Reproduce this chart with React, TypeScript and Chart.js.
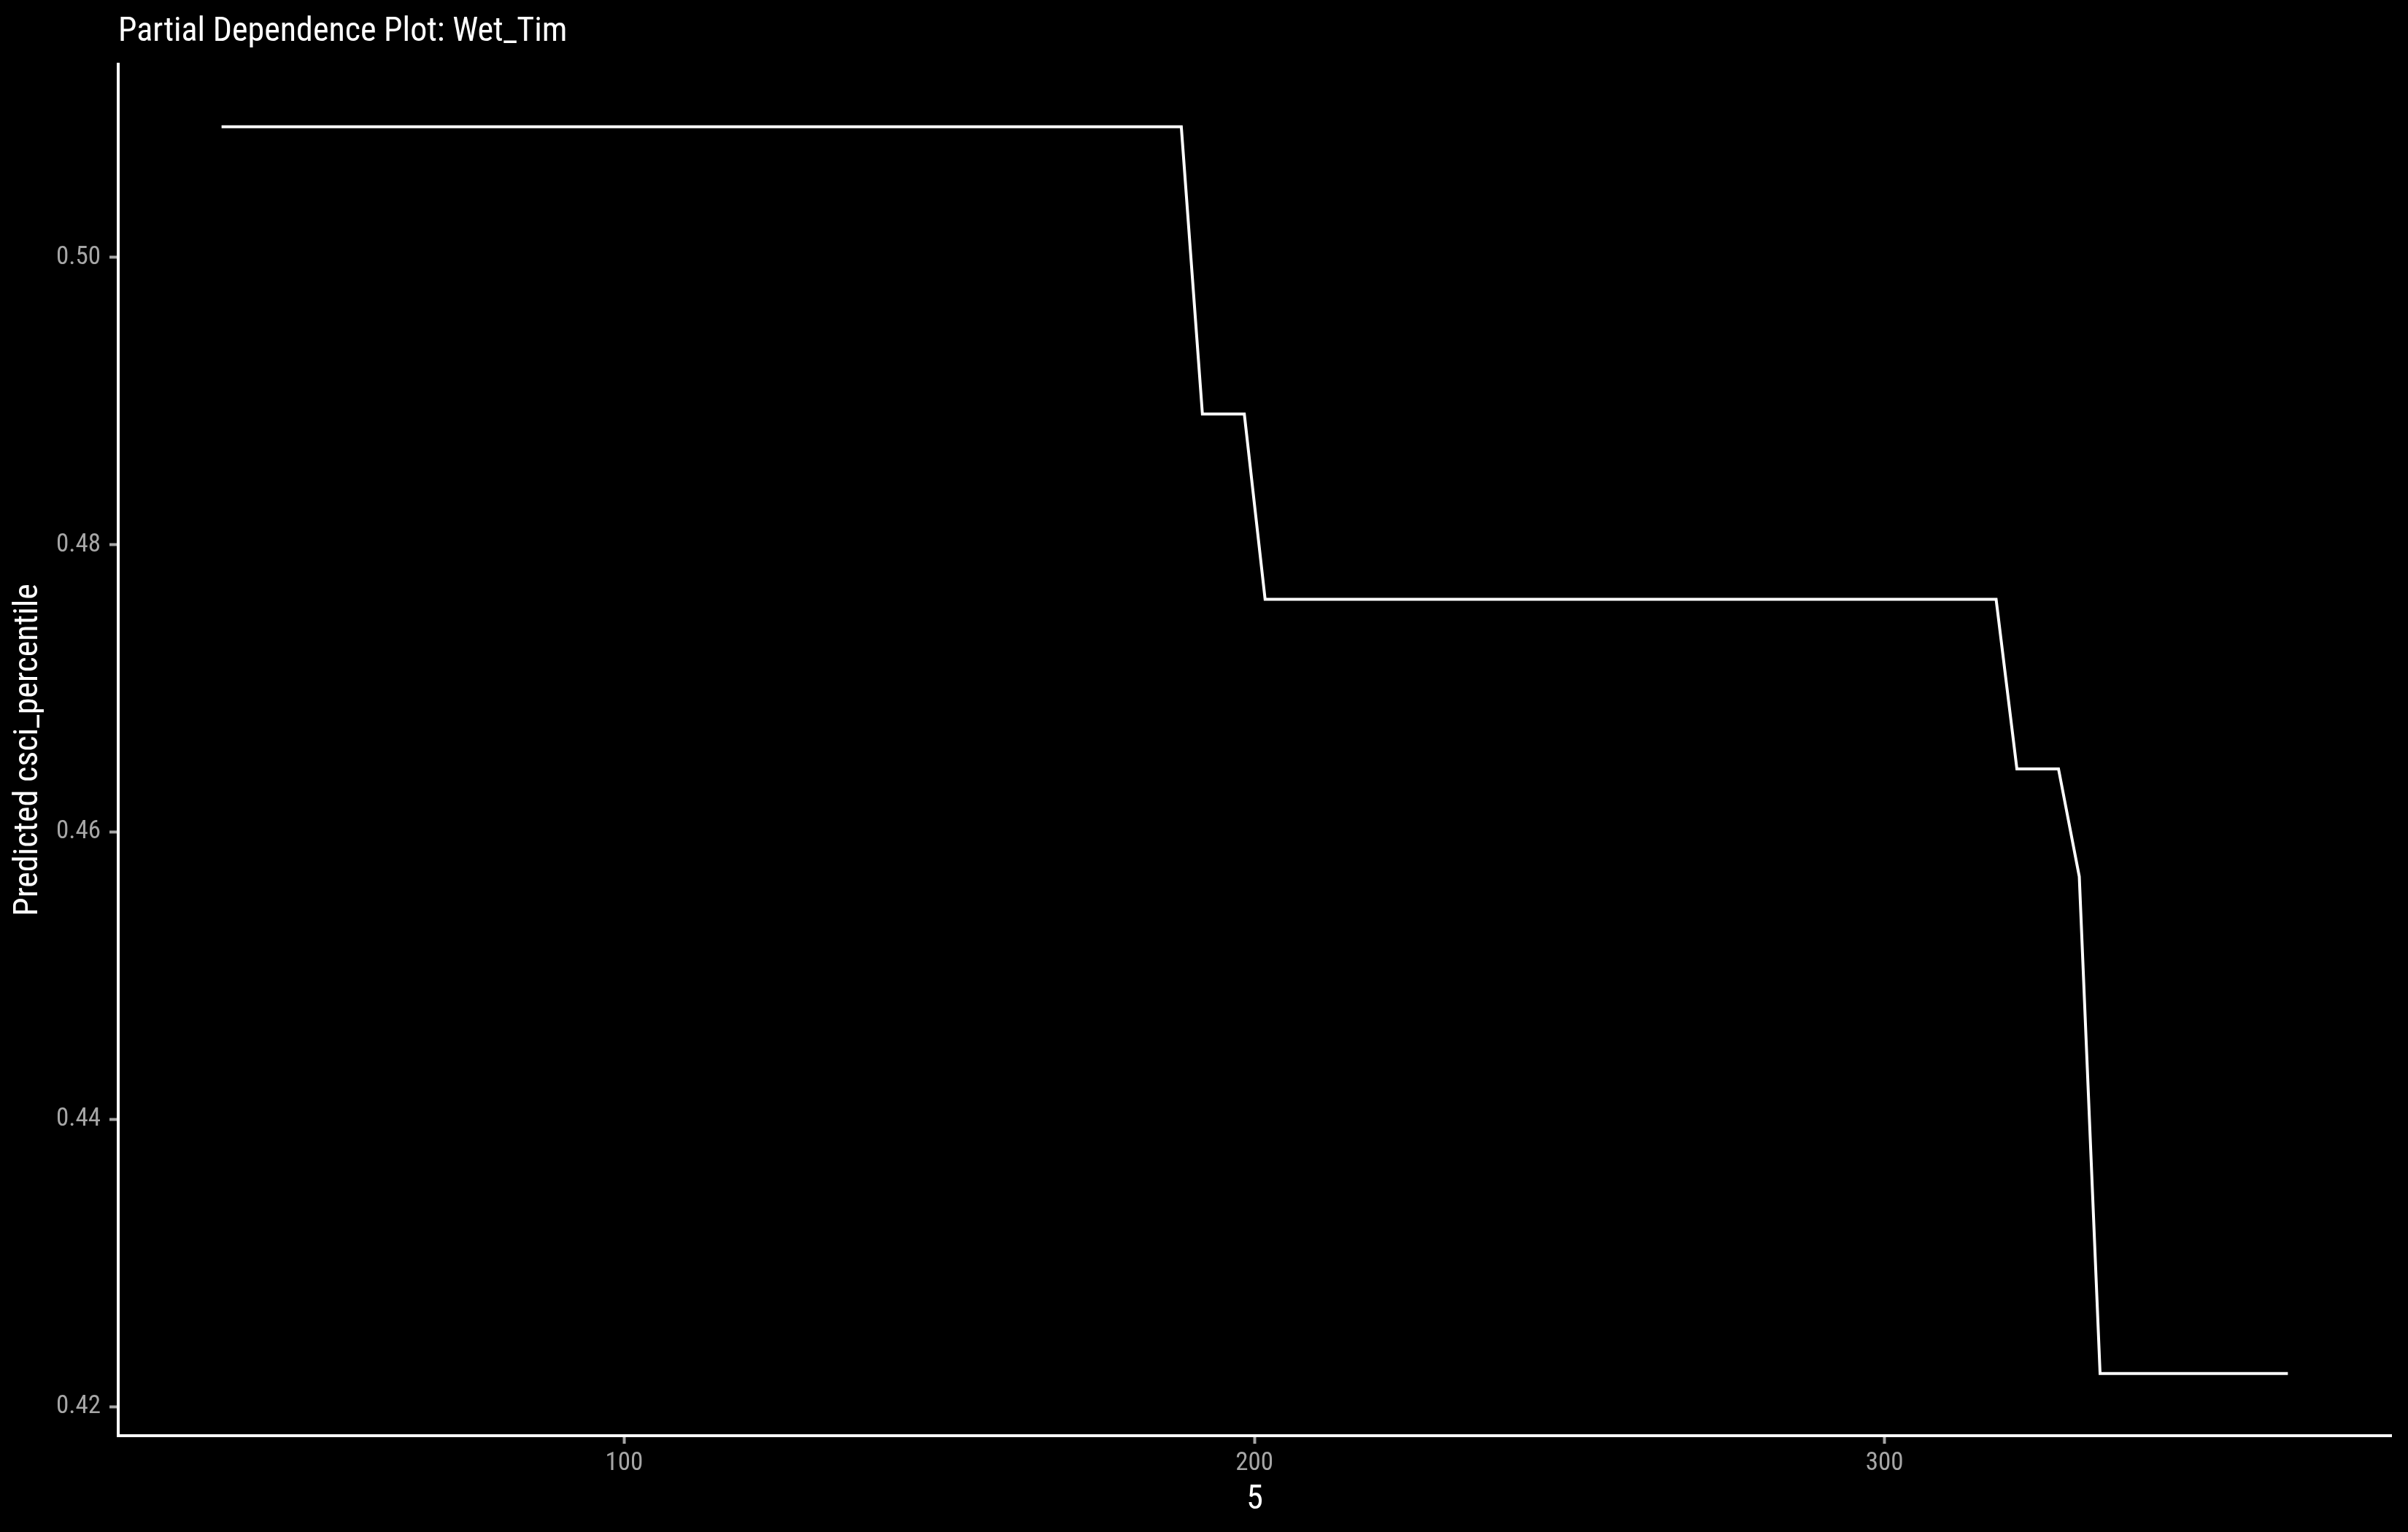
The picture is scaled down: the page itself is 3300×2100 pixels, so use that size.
import React, { useEffect, useRef } from "react";
import { Chart, registerables } from "chart.js";

Chart.register(...registerables);

// ---- data ----
const xValues = [36.1, 188.4, 191.75, 198.4, 201.7, 317.7, 321.0, 327.6, 330.9, 334.2, 364.0];
const yValues = [0.5091, 0.5091, 0.4891, 0.4891, 0.4762, 0.4762, 0.4644, 0.4644, 0.4569, 0.4223, 0.4223];
const xTickValues = [100, 200, 300];
const yTickValues = [0.42, 0.44, 0.46, 0.48, 0.5];
const chartTitle = "Partial Dependence Plot: Wet_Tim";
const xAxisTitle = "5";
const yAxisTitle = "Predicted csci_percentile";

const FONT = '"Roboto Condensed", "Liberation Sans Narrow", "Open Sans", Roboto, sans-serif';
const W = 3300;
const H = 2100;

const titlePlugin = {
  id: "leftTitle",
  afterDraw(chart: any) {
    const ctx = chart.ctx;
    ctx.save();
    ctx.font = `46px ${FONT}`;
    ctx.fillStyle = "#ffffff";
    ctx.textAlign = "left";
    ctx.textBaseline = "alphabetic";
    ctx.fillText(chartTitle, chart.chartArea.left, 56);
    ctx.restore();
  },
};

export default function App() {
  const ref = useRef<HTMLCanvasElement | null>(null);

  useEffect(() => {
    if (!ref.current) return;
    const chart = new Chart(ref.current, {
      type: "line",
      data: {
        datasets: [
          {
            data: xValues.map((x, i) => ({ x, y: yValues[i] })),
            borderColor: "#ffffff",
            borderWidth: 4,
            pointRadius: 0,
            tension: 0,
            fill: false,
          },
        ],
      },
      options: {
        animation: false,
        responsive: false,
        devicePixelRatio: 1,
        layout: { padding: { top: 88, right: 23, left: 0, bottom: 0 } },
        plugins: {
          legend: { display: false },
          tooltip: { enabled: false },
          title: { display: false },
        },
        scales: {
          x: {
            type: "linear",
            min: 19.7,
            max: 380.4,
            afterBuildTicks: (s: any) => {
              s.ticks = xTickValues.map((v) => ({ value: v }));
            },
            afterFit: (s: any) => {
              s.height = 132;
            },
            ticks: {
              color: "#a6a6a6",
              font: { family: FONT, size: 35 },
              padding: 6,
              maxRotation: 0,
              autoSkip: false,
              callback: (v: any) => String(v),
            },
            grid: {
              drawOnChartArea: false,
              drawTicks: true,
              tickLength: 11,
              tickWidth: 4,
              tickColor: "#a6a6a6",
            },
            border: { display: true, color: "#ffffff", width: 4 },
            title: {
              display: true,
              text: xAxisTitle,
              color: "#ffffff",
              font: { family: FONT, size: 46 },
              padding: { top: 0, bottom: 16 },
            },
          },
          y: {
            type: "linear",
            min: 0.41797,
            max: 0.51346,
            afterBuildTicks: (s: any) => {
              s.ticks = yTickValues.map((v) => ({ value: v }));
            },
            afterFit: (s: any) => {
              s.width = 162;
            },
            ticks: {
              color: "#a6a6a6",
              font: { family: FONT, size: 35 },
              padding: 12,
              autoSkip: false,
              callback: (v: any) => Number(v).toFixed(2),
            },
            grid: {
              drawOnChartArea: false,
              drawTicks: true,
              tickLength: 12,
              tickWidth: 4,
              tickColor: "#a6a6a6",
            },
            border: { display: true, color: "#ffffff", width: 4 },
            title: {
              display: true,
              text: yAxisTitle,
              color: "#ffffff",
              font: { family: FONT, size: 46 },
              padding: { top: 12, bottom: 0 },
            },
          },
        },
      },
      plugins: [titlePlugin],
    } as any);
    return () => chart.destroy();
  }, []);

  return (
    <div
      style={{
        position: "fixed",
        left: 0,
        top: 0,
        width: W,
        height: H,
        background: "#000000",
      }}
    >
      <canvas ref={ref} width={W} height={H} style={{ display: "block", width: W, height: H }} />
    </div>
  );
}
